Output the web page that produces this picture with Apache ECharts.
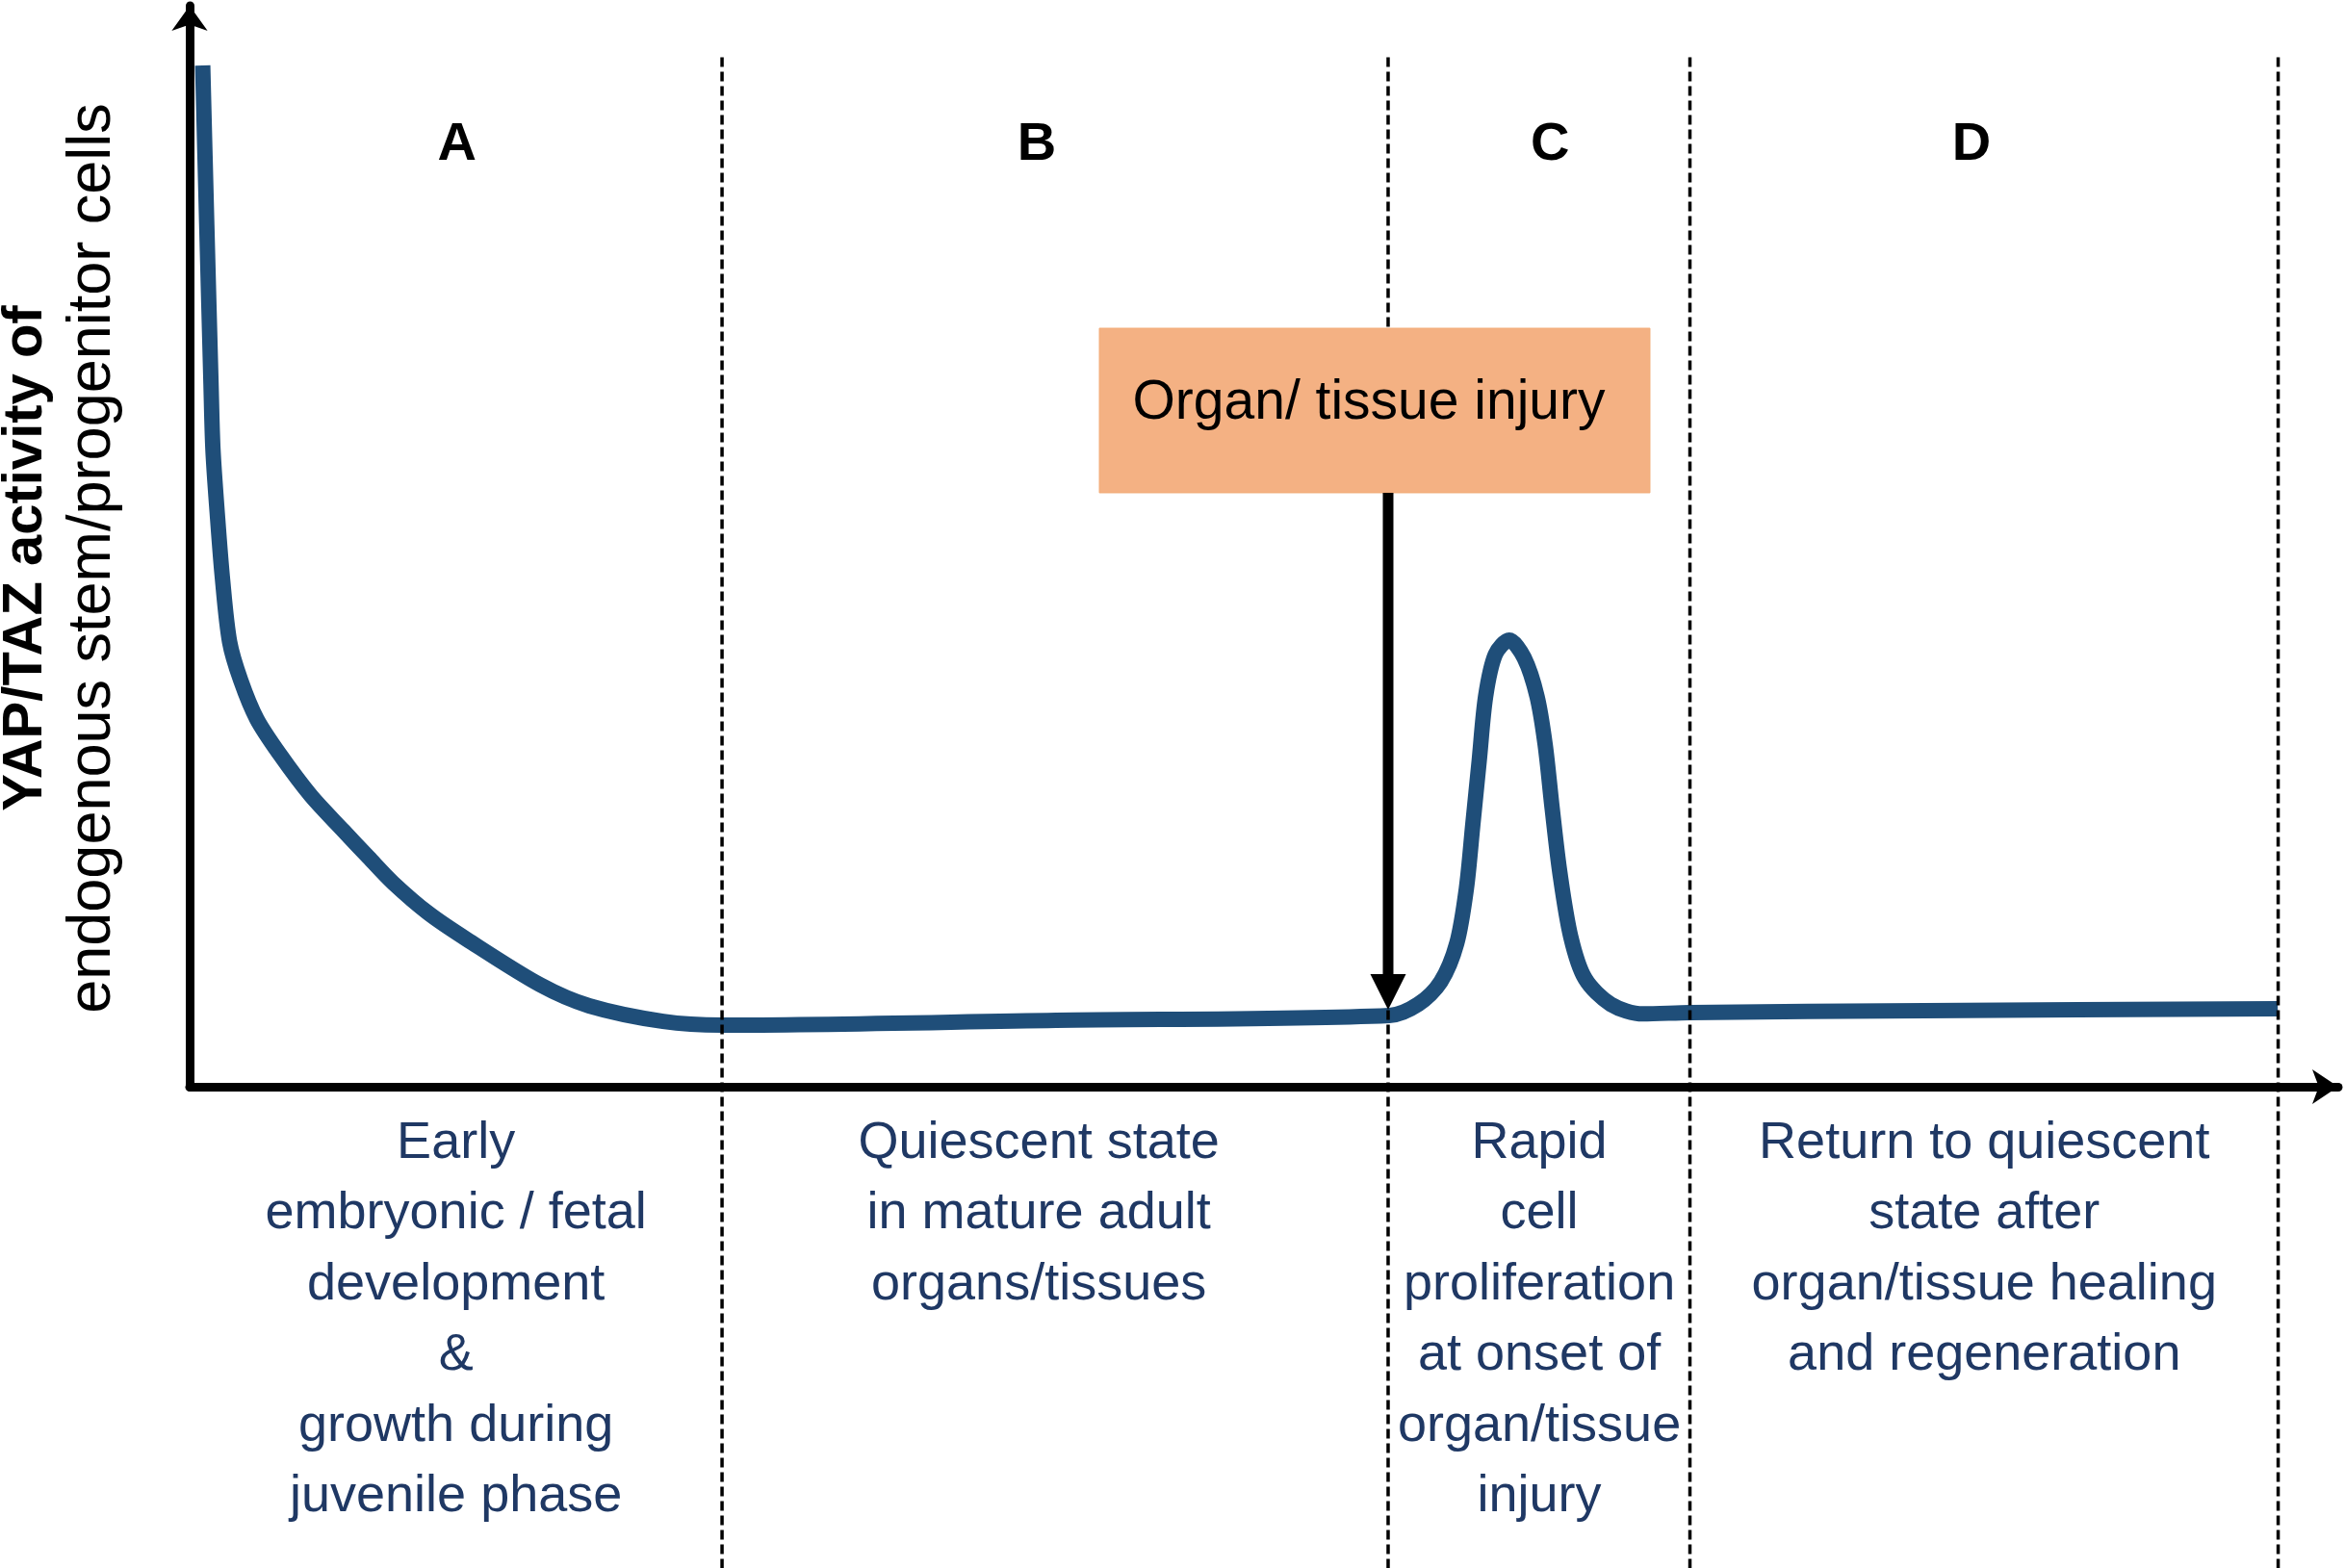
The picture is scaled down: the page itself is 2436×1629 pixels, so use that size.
<!DOCTYPE html>
<html>
<head>
<meta charset="utf-8">
<script src="https://cdn.jsdelivr.net/npm/echarts@6/dist/echarts.min.js"></script>
<style>
html,body{margin:0;padding:0;background:#ffffff;}
#chart{width:2436px;height:1629px;}
</style>
</head>
<body>
<div id="chart"></div>
<script>
// ---------------- DATA ----------------
const timeX = [0.61, 0.80, 1.00, 1.09, 1.29, 1.53, 1.87, 2.39, 3.14, 4.19, 5.67, 7.19, 8.37, 9.50, 11.16, 12.96, 16.38, 18.68, 22.14, 24.89,
  40.5, 56.09, 57.44, 58.49, 59.24, 59.69, 59.99, 60.29, 60.59, 61.04, 61.69, 62.39, 62.99, 63.37, 63.70, 64.06, 64.57, 65.24, 66.44, 67.94,
  70.14, 81.14, 97.62];
const activity = [95.33, 80.50, 65.50, 59.48, 53.55, 47.53, 41.51, 37.92, 34.32, 31.09, 27.16, 23.90, 21.40, 19.05, 16.20, 13.75, 9.52, 7.55, 6.10, 5.75,
  6.20, 6.65, 7.70, 9.79, 13.39, 18.51, 24.47, 30.46, 36.45, 40.34, 41.69, 40.04, 36.45, 31.96, 25.97, 19.97, 13.99, 10.09, 7.70, 6.80,
  6.92, 7.10, 7.28];
const phaseBounds = [0, 24.89, 56.03, 70.14, 97.64];
const phaseLetters = ['A', 'B', 'C', 'D'];
const phaseDescriptions = [
  ['Early', 'embryonic / fetal', 'development', '&', 'growth during', 'juvenile phase'],
  ['Quiescent state', 'in mature adult', 'organs/tissues'],
  ['Rapid', 'cell', 'proliferation', 'at onset of', 'organ/tissue', 'injury'],
  ['Return to quiescent', 'state after', 'organ/tissue healing', 'and regeneration']
];
const injuryX = 56.03;
const injuryLabel = 'Organ/ tissue injury';
const yTitleLines = ['YAP/TAZ activity of', 'endogenous stem/progenitor cells'];

// ---------------- LAYOUT (data-unit anchors) ----------------
const letterX = [12.5, 39.6, 63.6, 83.3];
const descX = [12.45, 39.7, 63.1, 83.9];
const dividerTop = 96.1;
const boxX = [42.53, 68.27];
const boxY = [55.44, 70.80];

const FONT = '"Liberation Sans", Arial, sans-serif';
const chart = echarts.init(document.getElementById('chart'), null, {renderer: 'canvas'});

chart.setOption({
  animation: false,
  backgroundColor: '#ffffff',
  grid: {left: 197, right: 7, top: 6, bottom: 500, containLabel: false},
  xAxis: {
    type: 'value', min: 0, max: 100.45,
    axisLine: {show: true, onZero: false, symbol: ['none', 'arrow'], symbolSize: [27, 27],
      lineStyle: {color: '#000000', width: 9}},
    axisTick: {show: false}, axisLabel: {show: false}, splitLine: {show: false}
  },
  yAxis: {
    type: 'value', min: 0, max: 100.9,
    axisLine: {show: true, onZero: false, symbol: ['none', 'arrow'], symbolSize: [28, 26],
      lineStyle: {color: '#000000', width: 9}},
    axisTick: {show: false}, axisLabel: {show: false}, splitLine: {show: false}
  },
  series: [{
    type: 'line',
    data: timeX.map((x, i) => [x, activity[i]]),
    showSymbol: false,
    smooth: 0.3,
    lineStyle: {color: '#1F4E79', width: 16, cap: 'butt', join: 'round'},
    z: 5
  }]
});

const px = (x, y) => chart.convertToPixel({gridIndex: 0}, [x, y]);
const H = chart.getHeight();
const axisY = px(0, 0)[1];
const graphics = [];

// dividers
phaseBounds.slice(1).forEach(b => {
  const p = px(b, dividerTop);
  graphics.push({type: 'line', z: 10,
    shape: {x1: p[0], y1: p[1], x2: p[0], y2: H},
    style: {stroke: '#000000', lineWidth: 3.5, lineDash: [10, 5]}});
});

// phase letters
phaseLetters.forEach((L, i) => {
  const p = px(letterX[i], 0);
  graphics.push({type: 'text', z: 30, x: p[0], y: 151,
    style: {text: L, fontSize: 56, fontWeight: 'bold', fontFamily: FONT, fill: '#000000',
      align: 'center', verticalAlign: 'middle'}});
});

// phase descriptions
phaseDescriptions.forEach((lines, i) => {
  const p = px(descX[i], 0);
  graphics.push({type: 'text', z: 30, x: p[0], y: axisY + 22,
    style: {text: lines.join('\n'), fontSize: 54, fontFamily: FONT, fill: '#1F3864',
      align: 'center', verticalAlign: 'top', lineHeight: 73.5}});
});

// injury box
const b0 = px(boxX[0], boxY[1]);
const b1 = px(boxX[1], boxY[0]);
graphics.push({type: 'rect', z: 20,
  shape: {x: b0[0], y: b0[1], width: b1[0] - b0[0], height: b1[1] - b0[1]},
  style: {fill: '#F4B183', stroke: '#F2AC78', lineWidth: 1}});
graphics.push({type: 'text', z: 25, x: (b0[0] + b1[0]) / 2 - 6, y: (b0[1] + b1[1]) / 2 - 7,
  style: {text: injuryLabel, fontSize: 57, fontFamily: FONT, fill: '#000000',
    align: 'center', verticalAlign: 'middle'}});

// injury arrow
let curveY = 6.65;
for (let i = 0; i < timeX.length; i++) { if (Math.abs(timeX[i] - injuryX) < 0.1) { curveY = activity[i]; } }
const aTop = px(injuryX, boxY[0]);
const aTip = px(injuryX, curveY);
const tipY = aTip[1] - 6;
const headH = 37, headW = 37;
graphics.push({type: 'line', z: 22,
  shape: {x1: aTop[0], y1: aTop[1], x2: aTop[0], y2: tipY - headH + 2},
  style: {stroke: '#000000', lineWidth: 11}});
graphics.push({type: 'polygon', z: 22,
  shape: {points: [[aTop[0] - headW / 2, tipY - headH], [aTop[0] + headW / 2, tipY - headH], [aTop[0], tipY]]},
  style: {fill: '#000000'}});

// y-axis title (two lines, rotated)
const midY = 580;
graphics.push({type: 'text', z: 30, x: 27, y: midY, rotation: Math.PI / 2,
  style: {text: yTitleLines[0], fontSize: 58, fontWeight: 'bold', fontFamily: FONT, fill: '#000000',
    align: 'center', verticalAlign: 'middle'}});
graphics.push({type: 'text', z: 30, x: 97, y: midY, rotation: Math.PI / 2,
  style: {text: yTitleLines[1], fontSize: 63, fontFamily: FONT, fill: '#000000',
    align: 'center', verticalAlign: 'middle'}});

chart.setOption({graphic: graphics});
</script>
</body>
</html>
